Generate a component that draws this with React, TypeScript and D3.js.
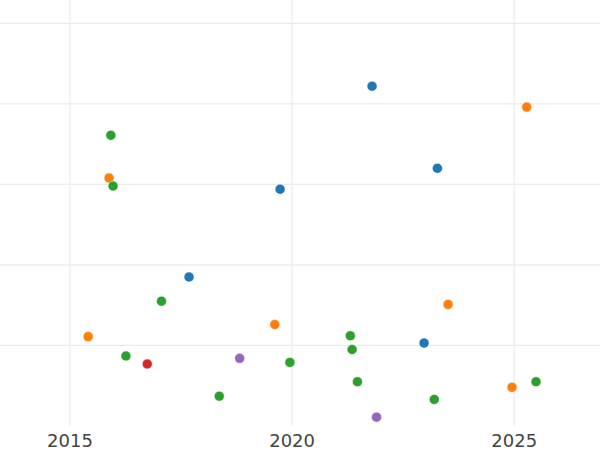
import React from "react";
import * as d3 from "d3";

const seriesNames = ["A", "B", "C", "D", "E"];
const seriesColors = ["#1f77b4", "#ff7f0e", "#2ca02c", "#d62728", "#9467bd"];

const blueYears = [2021.8, 2023.27, 2019.73, 2017.68, 2022.97];
const blueValues = [4.22, 3.2, 2.94, 1.85, 1.03];

const orangeYears = [2025.28, 2015.88, 2015.41, 2019.61, 2023.51, 2024.95];
const orangeValues = [3.96, 3.08, 1.11, 1.26, 1.51, 0.48];

const greenYears = [2015.92, 2015.97, 2017.06, 2016.26, 2018.36, 2019.95, 2021.31, 2021.35, 2021.47, 2023.2, 2025.49];
const greenValues = [3.61, 2.98, 1.55, 0.87, 0.37, 0.79, 1.12, 0.95, 0.55, 0.33, 0.55];

const redYears = [2016.74];
const redValues = [0.77];

const purpleYears = [2018.82, 2021.9];
const purpleValues = [0.84, 0.11];

const xTicks = [2015, 2020, 2025];
const yTicks = [1, 2, 3, 4, 5];

const W = 600;
const H = 450;

export default function App() {
  const x = d3.scaleLinear().domain([2013.425, 2026.93]).range([0, W]);
  const y = d3.scaleLinear().domain([0, 5.29]).range([426, 0]);
  const groups = [
    [blueYears, blueValues],
    [orangeYears, orangeValues],
    [greenYears, greenValues],
    [redYears, redValues],
    [purpleYears, purpleValues],
  ];
  return (
    <svg width={W} height={H} style={{ position: "absolute", left: 0, top: 0, background: "#fff" }}>
      <g>
        {yTicks.map((t) => (
          <line key={"h" + t} x1={0} x2={W} y1={y(t)} y2={y(t)} stroke="#ebebeb" strokeWidth={1.2} />
        ))}
        {xTicks.map((t) => (
          <line key={"v" + t} x1={x(t)} x2={x(t)} y1={0} y2={426} stroke="#ebebeb" strokeWidth={1.2} />
        ))}
      </g>
      <g>
        {groups.map(([xs, vs], gi) =>
          xs.map((xv, i) => (
            <circle
              key={seriesNames[gi] + i}
              cx={x(xv)}
              cy={y(vs[i])}
              r={5}
              fill={seriesColors[gi]}
              stroke="#fff"
              strokeWidth={0.5}
            />
          ))
        )}
      </g>
      <g>
        {xTicks.map((t) => (
          <text
            key={"t" + t}
            x={x(t)}
            y={447}
            textAnchor="middle"
            fontFamily="DejaVu Sans"
            fontSize={18}
            fill="#444"
          >
            {t}
          </text>
        ))}
      </g>
    </svg>
  );
}
